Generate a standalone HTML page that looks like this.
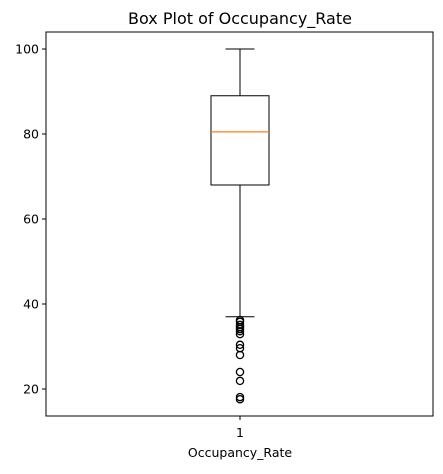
<!DOCTYPE html>
<html><head><meta charset="utf-8"><style>body{margin:0;background:#fff;font-family:"DejaVu Sans","Liberation Sans",sans-serif}</style></head>
<body>
<svg id="chart" width="443" height="470" xmlns="http://www.w3.org/2000/svg">
<text x="240" y="24" text-anchor="middle" font-size="16" fill="#000">Box Plot of Occupancy_Rate</text>
<rect x="46" y="32" width="387" height="384" fill="none" stroke="#000" stroke-width="1"/>
<g id="yaxis"></g>
<g id="marks"></g>
<line x1="240" y1="416" x2="240" y2="420" stroke="#000"/>
<text x="240" y="437" text-anchor="middle" font-size="12.5">1</text>
<text x="240" y="457" text-anchor="middle" font-size="12.5">Occupancy_Rate</text>
</svg>
<script>
const yTicks = [20, 40, 60, 80, 100];
const boxStats = [37, 68, 80.5, 89, 100]; // whisker low, q1, median, q3, whisker high
const outliers = [36.2, 35.8, 35.1, 34.6, 34.1, 33.6, 32.9, 30.4, 29.6, 28.0, 24.0, 21.9, 18.1, 17.6];
const NS = "http://www.w3.org/2000/svg";
function y(v){ return 49 + (100 - v) * 4.25; }
const cx = 240, hw = 29, capw = 14.5;
function mk(tag, attrs, parent){ const e = document.createElementNS(NS, tag); for (const k in attrs) e.setAttribute(k, attrs[k]); parent.appendChild(e); return e; }
const ya = document.getElementById('yaxis');
yTicks.forEach(t => {
  const l = mk('line', {x1:42, x2:46, y1:y(t), y2:y(t), stroke:'#000'}, ya);
  
  
  const tx = mk('text', {x:39, y:y(t)+4.5, 'text-anchor':'end', 'font-size':12.5}, ya);
  tx.textContent = t;
  
  
});
const g = document.getElementById('marks');
const [wl, q1, med, q3, wh] = boxStats;
const w1 = mk('line', {x1:cx, x2:cx, y1:y(q1), y2:y(wl), stroke:'#000'}, g);


const w2 = mk('line', {x1:cx, x2:cx, y1:y(q3), y2:y(wh), stroke:'#000'}, g);


const c1 = mk('line', {x1:cx-capw, x2:cx+capw, y1:y(wl), y2:y(wl), stroke:'#000'}, g);


const c2 = mk('line', {x1:cx-capw, x2:cx+capw, y1:y(wh), y2:y(wh), stroke:'#000'}, g);


const b = mk('rect', {x:cx-hw, y:y(q3), width:hw*2, height:y(q1)-y(q3), fill:'none', stroke:'#000'}, g);


const m = mk('line', {x1:cx-hw, x2:cx+hw, y1:y(med), y2:y(med), stroke:'#ff7f0e', 'stroke-width':1.3}, g);


outliers.forEach(v => {
  const c = mk('circle', {cx:cx, cy:y(v), r:3.6, fill:'none', stroke:'#000', 'stroke-width':1.3}, g);
  
  
});
</script>
</body></html>
